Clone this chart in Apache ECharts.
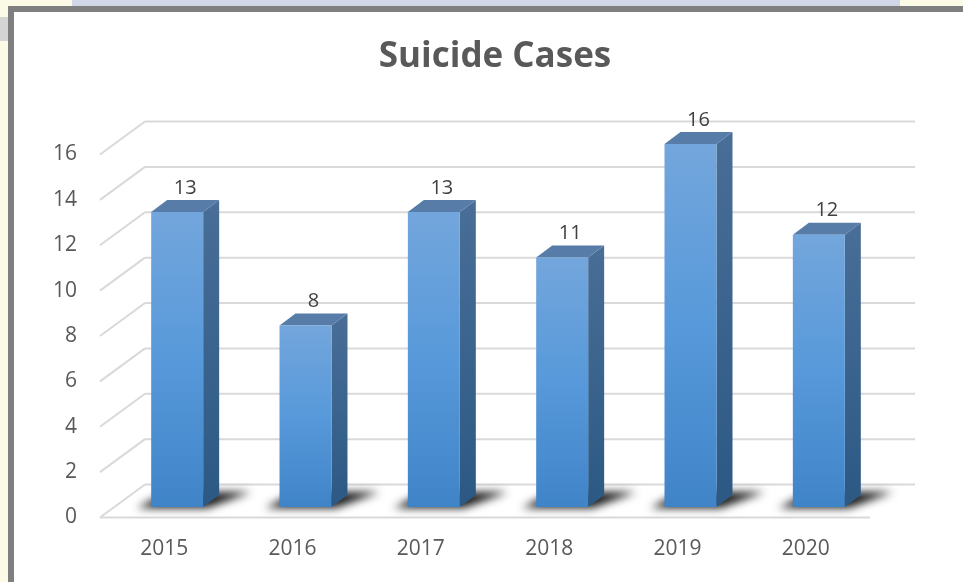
<!DOCTYPE html>
<html>
<head>
<meta charset="utf-8">
<script src="https://cdn.jsdelivr.net/npm/echarts@6/dist/echarts.min.js"></script>
<style>
html,body{margin:0;padding:0;background:#fff;}
#c{width:963px;height:582px;}
</style>
</head>
<body>
<div id="c"></div>
<script>
const years = ['2015', '2016', '2017', '2018', '2019', '2020'];
const cases = [13, 8, 13, 11, 16, 12];
const yTicks = [0, 2, 4, 6, 8, 10, 12, 14, 16];

const WALL_DX = 45, WALL_DY = -33;
const BAR_OFF_X = 13, BAR_OFF_Y = -10.5;
const BAR_RATIO = 0.405, BAR_DX = 16, BAR_DY = -12;
const FONT = '"Open Sans", "Noto Sans", sans-serif';

const chart = echarts.init(document.getElementById('c'), null, {renderer: 'canvas'});

function wallItem(params, api) {
  const cs = params.coordSys;
  const v = api.value(0);
  const y = api.coord([0, v])[1];
  const L = cs.x, W = cs.width;
  const st = {stroke: '#d9d9d9', lineWidth: 2, fill: null};
  const ch = [
    {type: 'line', shape: {x1: L, y1: y, x2: L + WALL_DX, y2: y + WALL_DY}, style: st},
    {type: 'line', shape: {x1: L + WALL_DX, y1: y + WALL_DY, x2: L + WALL_DX + W, y2: y + WALL_DY}, style: st}
  ];
  if (v === 0) {
    ch.push({type: 'line', shape: {x1: L, y1: y, x2: L + W, y2: y}, style: st});
  }
  return {type: 'group', children: ch};
}

function barItem(params, api) {
  const i = api.value(0), v = api.value(1);
  const base = api.coord([i, 0]);
  const top = api.coord([i, v]);
  const bw = api.size([1, 0])[0] * BAR_RATIO;
  const x1 = base[0] - bw / 2 + BAR_OFF_X, x2 = x1 + bw;
  const yb = base[1] + BAR_OFF_Y, yt = top[1] + BAR_OFF_Y;
  const SH = 3000;
  return {
    type: 'group',
    children: [
      { // blurred floor shadow
        type: 'polygon',
        shape: {points: [
          [x1 - 14 - SH, yb + 1], [x2 + 4 - SH, yb + 1],
          [x2 + BAR_DX + 32 - SH, yb + BAR_DY - 3], [x1 + BAR_DX - SH, yb + BAR_DY - 3]
        ]},
        style: {fill: '#000', shadowBlur: 9, shadowColor: 'rgba(0,0,0,0.9)', shadowOffsetX: SH, shadowOffsetY: 0}
      },
      { // side face
        type: 'polygon',
        shape: {points: [[x2, yb], [x2 + BAR_DX, yb + BAR_DY], [x2 + BAR_DX, yt + BAR_DY], [x2, yt]]},
        style: {fill: new echarts.graphic.LinearGradient(0, 0, 0, 1, [
          {offset: 0, color: '#496e97'}, {offset: 1, color: '#2b5984'}
        ])}
      },
      { // top face
        type: 'polygon',
        shape: {points: [[x1, yt], [x2, yt], [x2 + BAR_DX, yt + BAR_DY], [x1 + BAR_DX, yt + BAR_DY]]},
        style: {fill: '#587ca8'}
      },
      { // front face
        type: 'rect',
        shape: {x: x1, y: yt, width: bw, height: yb - yt},
        style: {fill: new echarts.graphic.LinearGradient(0, 0, 0, 1, [
          {offset: 0, color: '#73a6dc'}, {offset: 0.5, color: '#5799da'}, {offset: 1, color: '#4084c8'}
        ])}
      },
      { // value label
        type: 'text',
        style: {
          text: String(v), x: (x1 + x2) / 2 + BAR_DX / 2, y: yt + BAR_DY - 2,
          align: 'center', verticalAlign: 'bottom',
          font: '20px ' + FONT, fill: '#404040'
        }
      }
    ]
  };
}

const option = {
  animation: false,
  backgroundColor: '#fff',
  title: {
    text: 'Suicide Cases', left: 490, top: 35, textAlign: 'center',
    textStyle: {fontFamily: FONT, fontSize: 35, fontWeight: 'bold', color: '#595959'}
  },
  grid: {left: 100, right: 93, top: 154.5, bottom: 64.5, containLabel: false},
  xAxis: {
    type: 'category', data: years,
    axisLine: {show: false}, axisTick: {show: false}, splitLine: {show: false},
    axisLabel: {fontFamily: FONT, fontSize: 21, color: '#595959', margin: 21}
  },
  yAxis: {
    type: 'value', min: 0, max: 16, interval: 2,
    axisLine: {show: false}, axisTick: {show: false}, splitLine: {show: false},
    axisLabel: {fontFamily: FONT, fontSize: 21, color: '#595959', margin: 23}
  },
  graphic: [
    {type: 'rect', shape: {x: 0, y: 0, width: 963, height: 6}, style: {fill: '#fafae6'}, z: -10},
    {type: 'rect', shape: {x: 72, y: 0, width: 828, height: 6}, style: {fill: '#d2d7e7'}, z: -9},
    {type: 'rect', shape: {x: 0, y: 0, width: 8, height: 582}, style: {fill: '#fafae6'}, z: -10},
    {type: 'rect', shape: {x: 0, y: 17, width: 8, height: 24}, style: {fill: '#d4d4d4'}, z: -9},
    {type: 'rect', shape: {x: 8, y: 6, width: 955, height: 6}, style: {fill: '#7f7f7f'}, z: 10},
    {type: 'rect', shape: {x: 8, y: 6, width: 6, height: 576}, style: {fill: '#7f7f7f'}, z: 10}
  ],
  series: [
    {type: 'custom', renderItem: wallItem, data: yTicks.map(v => [v]), z: 1, silent: true},
    {type: 'custom', renderItem: barItem, data: cases.map((v, i) => [i, v]), z: 2, silent: true}
  ]
};
chart.setOption(option);
</script>
</body>
</html>
